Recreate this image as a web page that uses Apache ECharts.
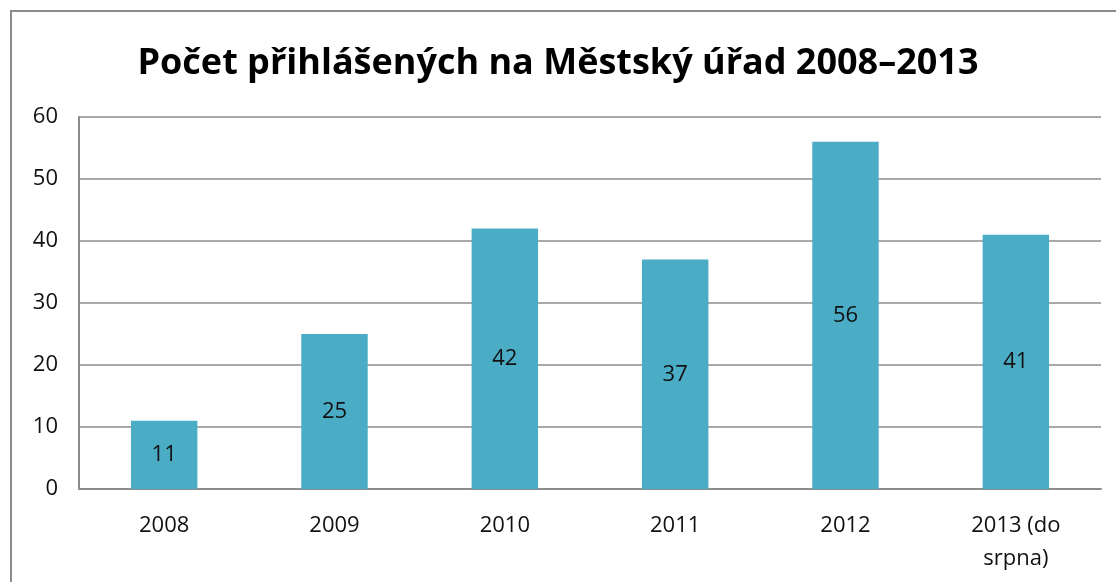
<!DOCTYPE html>
<html>
<head>
<meta charset="utf-8">
<script src="https://cdn.jsdelivr.net/npm/echarts@6/dist/echarts.min.js"></script>
<style>
html, body { margin: 0; padding: 0; background: #fff; }
#chart { width: 1116px; height: 582px; }
</style>
</head>
<body>
<div id="chart"></div>
<script>
// data
const categories = ['2008', '2009', '2010', '2011', '2012', '2013 (do\nsrpna)'];
const values = [11, 25, 42, 37, 56, 41];
const yTicks = [0, 10, 20, 30, 40, 50, 60];

const font = '"Open Sans", "Noto Sans", sans-serif';
const myChart = echarts.init(document.getElementById('chart'));
const option = {
    animation: false,
    backgroundColor: '#fff',
    title: {
        text: 'Počet přihlášených na Městský úřad 2008–2013',
        left: 'center',
        top: 41,
        textStyle: { fontFamily: font, fontSize: 36, fontWeight: 'bold', color: '#000' }
    },
    graphic: [{
        type: 'rect',
        shape: { x: 11, y: 11, width: 1120, height: 590 },
        style: { fill: 'none', stroke: '#8c8c8c', lineWidth: 2 },
        silent: true
    }],
    grid: { left: 79, right: 15, top: 117, bottom: 93 },
    xAxis: {
        type: 'category',
        data: categories,
        axisTick: { show: false },
        axisLine: { lineStyle: { color: '#8c8c8c', width: 2 } },
        axisLabel: {
            fontFamily: font, fontSize: 22, color: '#111', margin: 20, lineHeight: 33,
            interval: 0
        }
    },
    yAxis: {
        type: 'value',
        min: yTicks[0],
        max: yTicks[yTicks.length - 1],
        interval: 10,
        axisLine: { show: true, lineStyle: { color: '#8c8c8c', width: 2 } },
        axisTick: { show: false },
        splitLine: { lineStyle: { color: '#8c8c8c', width: 1.5 } },
        axisLabel: { fontFamily: font, fontSize: 22, color: '#111', margin: 21 }
    },
    series: [{
        type: 'bar',
        data: values,
        barWidth: '39%',
        itemStyle: { color: '#4BACC6' },
        label: {
            show: true,
            position: 'inside',
            fontFamily: font,
            fontSize: 22,
            color: '#111'
        }
    }]
};
myChart.setOption(option);
window.addEventListener('resize', function () {
    myChart.resize();
});
</script>
</body>
</html>
